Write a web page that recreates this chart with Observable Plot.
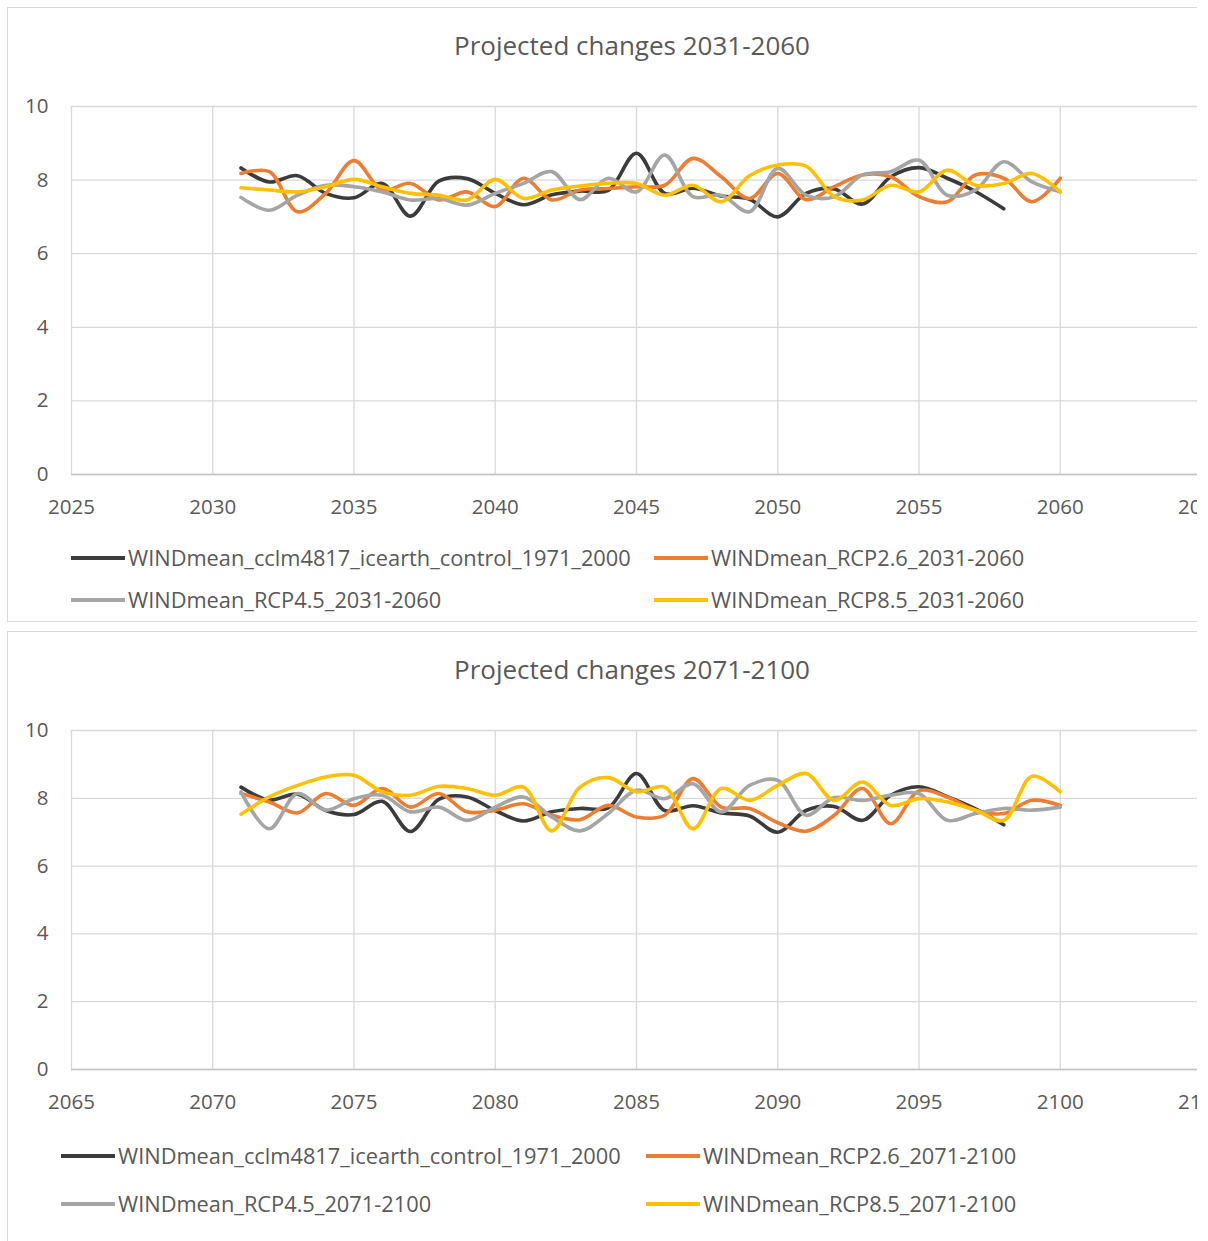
<!DOCTYPE html>
<html>
<head>
<meta charset="utf-8">
<script src="https://cdn.jsdelivr.net/npm/d3@7"></script>
<script src="https://cdn.jsdelivr.net/npm/@observablehq/plot@0.6"></script>
<style>
  html, body { margin: 0; padding: 0; background: #fff; }
  #page { position: relative; width: 1197px; height: 1241px; overflow: hidden; font-family: "Open Sans", sans-serif; color: #595959; }
  .box { position: absolute; left: 7px; width: 1260px; border: 1px solid #d9d9d9; box-sizing: border-box; background: #fff; }
  .title { position: absolute; width: 600px; left: 332px; text-align: center; font-size: 26px; line-height: 30px; white-space: nowrap; }
  .chart { position: absolute; left: 0; width: 1240px; }
  .chart svg { max-width: none !important; }
  .leg { position: absolute; display: flex; align-items: center; font-size: 21.8px; line-height: 28px; white-space: nowrap; }
  .leg .sw { width: 54px; height: 4px; margin-right: 3px; }
</style>
</head>
<body>
<div id="page">
  <div class="box" style="top:7px;height:615px;"></div>
  <div class="box" style="top:631px;height:640px;"></div>
  <div class="title" id="t1" style="top:30px;"></div>
  <div class="title" id="t2" style="top:654px;"></div>
  <div class="chart" id="c1" style="top:80px;"></div>
  <div class="chart" id="c2" style="top:705px;"></div>
  <div id="leg1"></div>
  <div id="leg2"></div>
</div>
<script>
// ---- data ----
const titles = ["Projected changes 2031-2060", "Projected changes 2071-2100"];
const yTicks = [0, 2, 4, 6, 8, 10];
const xTicksA = [2025, 2030, 2035, 2040, 2045, 2050, 2055, 2060, 2065];
const xTicksB = [2065, 2070, 2075, 2080, 2085, 2090, 2095, 2100, 2105];
const yearsA = [2031, 2032, 2033, 2034, 2035, 2036, 2037, 2038, 2039, 2040, 2041, 2042, 2043, 2044, 2045,
                2046, 2047, 2048, 2049, 2050, 2051, 2052, 2053, 2054, 2055, 2056, 2057, 2058, 2059, 2060];
const yearsB = [2071, 2072, 2073, 2074, 2075, 2076, 2077, 2078, 2079, 2080, 2081, 2082, 2083, 2084, 2085,
                2086, 2087, 2088, 2089, 2090, 2091, 2092, 2093, 2094, 2095, 2096, 2097, 2098, 2099, 2100];
const namesA = ["WINDmean_cclm4817_icearth_control_1971_2000", "WINDmean_RCP2.6_2031-2060", "WINDmean_RCP4.5_2031-2060", "WINDmean_RCP8.5_2031-2060"];
const namesB = ["WINDmean_cclm4817_icearth_control_1971_2000", "WINDmean_RCP2.6_2071-2100", "WINDmean_RCP4.5_2071-2100", "WINDmean_RCP8.5_2071-2100"];
const colors = ["#3b3b3b", "#ed7d31", "#a5a5a5", "#ffc000"];

// control run (same series in both panels)
const control = [8.33, 7.95, 8.12, 7.64, 7.52, 7.91, 7.02, 7.97, 8.04, 7.64, 7.33, 7.60, 7.70, 7.72, 8.73,
                 7.64, 7.78, 7.57, 7.48, 7.00, 7.64, 7.76, 7.35, 8.09, 8.34, 8.05, 7.69, 7.22];
const rcp26A = [8.18, 8.23, 7.14, 7.64, 8.53, 7.73, 7.91, 7.46, 7.68, 7.28, 8.05, 7.46, 7.73, 7.77, 7.82,
                7.86, 8.59, 8.09, 7.50, 8.18, 7.47, 7.82, 8.14, 8.09, 7.55, 7.41, 8.14, 8.05, 7.41, 8.05];
const rcp45A = [7.53, 7.18, 7.59, 7.86, 7.82, 7.68, 7.46, 7.50, 7.32, 7.64, 7.91, 8.23, 7.47, 8.05, 7.68,
                8.68, 7.55, 7.59, 7.14, 8.32, 7.59, 7.55, 8.14, 8.23, 8.54, 7.59, 7.73, 8.50, 7.95, 7.68];
const rcp85A = [7.79, 7.73, 7.68, 7.82, 8.02, 7.82, 7.64, 7.59, 7.46, 8.02, 7.50, 7.73, 7.84, 7.91, 7.91,
                7.59, 7.86, 7.41, 8.12, 8.41, 8.38, 7.55, 7.46, 7.86, 7.68, 8.27, 7.86, 7.91, 8.18, 7.68];
const rcp26B = [8.14, 7.89, 7.57, 8.14, 7.79, 8.29, 7.74, 8.14, 7.60, 7.65, 7.84, 7.50, 7.37, 7.79, 7.45,
                7.50, 8.58, 7.74, 7.70, 7.28, 7.03, 7.50, 8.29, 7.25, 8.22, 8.04, 7.65, 7.55, 7.94, 7.79];
const rcp45B = [8.19, 7.10, 8.14, 7.65, 7.99, 8.09, 7.60, 7.74, 7.35, 7.74, 8.04, 7.45, 7.04, 7.55, 8.24,
                7.99, 8.43, 7.60, 8.38, 8.53, 7.50, 8.02, 7.94, 8.09, 8.14, 7.35, 7.55, 7.70, 7.65, 7.74];
const rcp85B = [7.53, 8.04, 8.38, 8.63, 8.68, 8.19, 8.09, 8.35, 8.29, 8.09, 8.33, 7.04, 8.33, 8.61, 8.19,
                8.33, 7.10, 8.29, 7.94, 8.38, 8.73, 7.94, 8.48, 7.79, 7.99, 7.89, 7.65, 7.35, 8.65, 8.19];

// ---- build ----
function rowsOf(years, values, name) {
  return values.map((v, i) => ({year: years[i], value: v, series: name}));
}
const rowsA = [
  ...rowsOf(yearsA, control, namesA[0]),
  ...rowsOf(yearsA, rcp26A, namesA[1]),
  ...rowsOf(yearsA, rcp45A, namesA[2]),
  ...rowsOf(yearsA, rcp85A, namesA[3])
];
const rowsB = [
  ...rowsOf(yearsB, control, namesB[0]),
  ...rowsOf(yearsB, rcp26B, namesB[1]),
  ...rowsOf(yearsB, rcp45B, namesB[2]),
  ...rowsOf(yearsB, rcp85B, namesB[3])
];

function makeChart(rows, names, xTicks, height, marginTop, marginBottom) {
  return Plot.plot({
    width: 1240, height, marginLeft: 71, marginRight: 39, marginTop, marginBottom,
    x: {domain: [xTicks[0], xTicks[xTicks.length - 2] + 5], label: null},
    y: {domain: [0, 10], label: null},
    color: {domain: names, range: colors},
    style: {fontFamily: "Open Sans", fontSize: "20.5px", color: "#595959", background: "transparent", overflow: "visible"},
    marks: [
      Plot.gridX(xTicks, {stroke: "#d9d9d9", strokeOpacity: 1, strokeWidth: 1.3}),
      Plot.gridY(yTicks, {stroke: "#d9d9d9", strokeOpacity: 1, strokeWidth: 1.3}),
      Plot.ruleY([0], {stroke: "#c4c4c4", strokeWidth: 1.6}),
      Plot.axisX(xTicks, {tickSize: 0, tickPadding: 25, tickFormat: d => String(d), fontSize: 20.5, fill: "#595959"}),
      Plot.axisY(yTicks, {tickSize: 0, tickPadding: 23, tickFormat: d => String(d), fontSize: 20.5, fill: "#595959"}),
      Plot.line(rows, {x: "year", y: "value", z: "series", stroke: "series", curve: "catmull-rom", strokeWidth: 3.6})
    ]
  });
}

document.getElementById("t1").textContent = titles[0];
document.getElementById("t2").textContent = titles[1];
document.getElementById("c1").appendChild(makeChart(rowsA, namesA, xTicksA, 440, 26, 46));
document.getElementById("c2").appendChild(makeChart(rowsB, namesB, xTicksB, 420, 25, 56));

function legend(id, names, pos) {
  const host = document.getElementById(id);
  names.forEach((n, i) => {
    const p = pos[i];
    const d = document.createElement("div");
    d.className = "leg";
    d.style.left = p[0] + "px";
    d.style.top = (p[1] - 14) + "px";
    const sw = document.createElement("span");
    sw.className = "sw";
    sw.style.background = colors[i];
    const t = document.createElement("span");
    t.textContent = n;
    d.appendChild(sw); d.appendChild(t);
    host.appendChild(d);
  });
}
legend("leg1", namesA, [[71, 558], [654, 558], [71, 600], [654, 600]]);
legend("leg2", namesB, [[61, 1156], [646, 1156], [61, 1204], [646, 1204]]);
</script>
</body>
</html>
